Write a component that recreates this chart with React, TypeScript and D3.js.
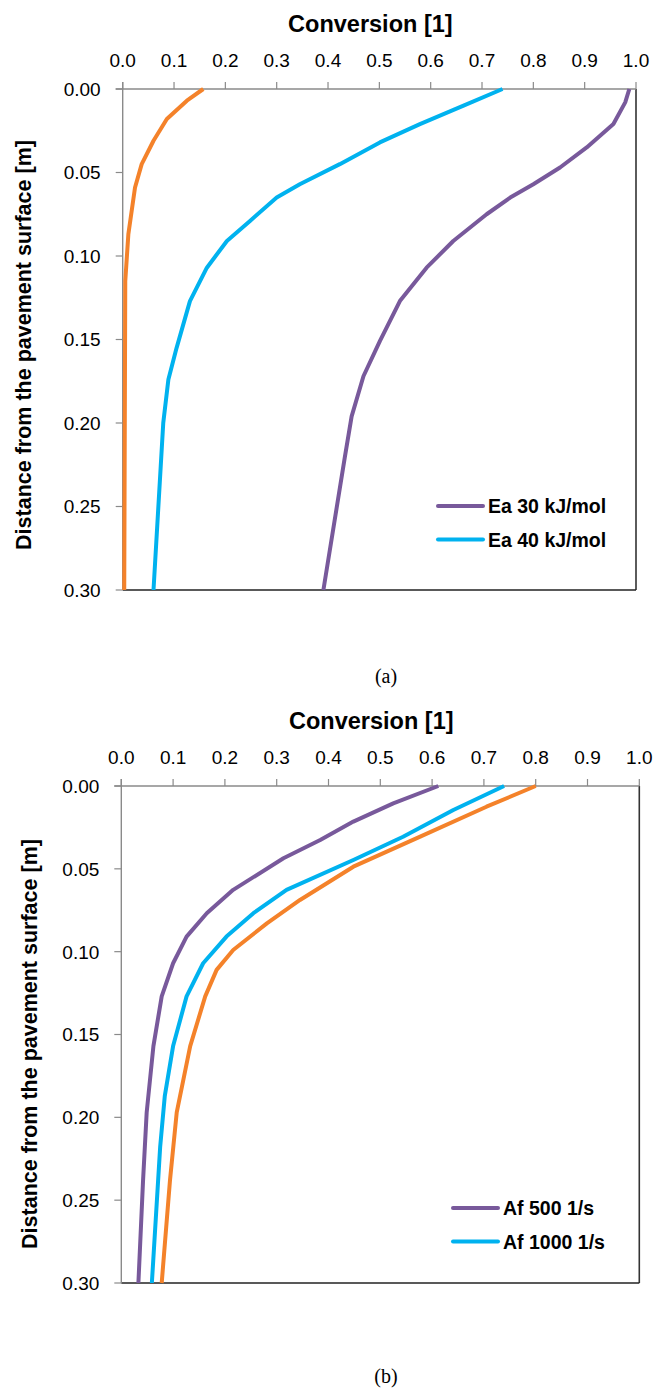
import React from "react";
import * as d3 from "d3";

// ---------- DATA ----------
const xTicks = [0, 0.1, 0.2, 0.3, 0.4, 0.5, 0.6, 0.7, 0.8, 0.9, 1.0];
const yTicks = [0, 0.05, 0.1, 0.15, 0.2, 0.25, 0.3];

// Panel (a)
const aEa30Depth = [0, 0.008, 0.021, 0.035, 0.047, 0.057, 0.065, 0.075, 0.091, 0.107, 0.127, 0.151, 0.172, 0.196, 0.22, 0.3];
const aEa30Conv = [0.987, 0.979, 0.956, 0.904, 0.852, 0.8, 0.755, 0.709, 0.644, 0.592, 0.54, 0.501, 0.469, 0.446, 0.433, 0.391];
const aEa40Depth = [0, 0.01, 0.021, 0.032, 0.045, 0.057, 0.065, 0.079, 0.091, 0.107, 0.127, 0.155, 0.174, 0.2, 0.3];
const aEa40Conv = [0.74, 0.664, 0.579, 0.501, 0.423, 0.345, 0.3, 0.248, 0.203, 0.164, 0.131, 0.105, 0.089, 0.079, 0.06];
const aEa50Depth = [0, 0.007, 0.018, 0.031, 0.045, 0.059, 0.087, 0.115, 0.3];
const aEa50Conv = [0.157, 0.125, 0.086, 0.06, 0.037, 0.024, 0.011, 0.005, 0.003];

// Panel (b)
const bAf500Depth = [0, 0.0105, 0.0215, 0.0326, 0.0436, 0.0627, 0.0768, 0.0909, 0.107, 0.127, 0.157, 0.197, 0.238, 0.3];
const bAf500Conv = [0.612, 0.525, 0.448, 0.384, 0.313, 0.216, 0.165, 0.126, 0.1, 0.078, 0.062, 0.049, 0.042, 0.033];
const bAf1000Depth = [0, 0.0145, 0.0306, 0.0447, 0.0627, 0.0768, 0.0909, 0.107, 0.127, 0.157, 0.187, 0.218, 0.3];
const bAf1000Conv = [0.739, 0.641, 0.544, 0.448, 0.319, 0.255, 0.203, 0.158, 0.126, 0.1, 0.084, 0.075, 0.059];
const bAf2000Depth = [0, 0.0125, 0.0306, 0.0487, 0.0688, 0.0829, 0.099, 0.111, 0.127, 0.157, 0.197, 0.238, 0.3];
const bAf2000Conv = [0.8, 0.705, 0.577, 0.448, 0.345, 0.281, 0.216, 0.184, 0.162, 0.133, 0.107, 0.094, 0.078];

const legendA = ["Ea 30 kJ/mol", "Ea 40 kJ/mol"];
const legendB = ["Af 500 1/s", "Af 1000 1/s"];

const xTitle = "Conversion [1]";
const yTitle = "Distance from the pavement surface [m]";

// ---------- STYLE ----------
const PURPLE = "#78599B";
const BLUE = "#00B2EF";
const ORANGE = "#F4822A";
const SANS = "'Liberation Sans', Arial, sans-serif";

type Series = { depth: number[]; conv: number[]; color: string };

type PanelProps = {
  x0: number; x1: number; y0: number; y1: number;
  series: Series[];
  legend: string[];
  legendX: number; legendY: number;
  yTitleX: number; yTitleY: number;
  caption: string; captionY: number;
};

function Panel(p: PanelProps) {
  const x = d3.scaleLinear().domain([0, 1]).range([p.x0, p.x1]);
  const y = d3.scaleLinear().domain([0, 0.3]).range([p.y0, p.y1]);
  const line = d3
    .line<[number, number]>()
    .x((d) => x(d[1]))
    .y((d) => y(d[0]));
  const fx = d3.format(".1f");
  const fy = d3.format(".2f");
  const legendColors = [p.series[0].color, p.series[1].color];
  return (
    <g>
      {/* x title */}
      <text x={(p.x0 + p.x1) / 2 - 9} y={p.y0 - 57} textAnchor="middle" fontFamily={SANS} fontWeight="bold" fontSize={23.5} fill="#000">
        {xTitle}
      </text>
      {/* y title */}
      <text
        transform={`translate(${p.yTitleX},${p.yTitleY}) rotate(-90)`}
        textAnchor="middle"
        dy="0.35em"
        fontFamily={SANS}
        fontWeight="bold"
        fontSize={21.5}
        fill="#000"
      >
        {yTitle}
      </text>
      {/* x tick labels */}
      {xTicks.map((t) => (
        <text key={"xl" + t} x={x(t)} y={p.y0 - 22.5} textAnchor="middle" fontFamily={SANS} fontSize={19} fill="#000">
          {fx(t)}
        </text>
      ))}
      {/* y tick labels */}
      {yTicks.map((t) => (
        <text key={"yl" + t} x={p.x0 - 22} y={y(t)} dy="0.36em" textAnchor="end" fontFamily={SANS} fontSize={19} fill="#000">
          {fy(t)}
        </text>
      ))}
      {/* plot border right/bottom */}
      <line x1={p.x1} x2={p.x1} y1={p.y0} y2={p.y1} stroke="#333" strokeWidth={1.6} />
      <line x1={p.x0} x2={p.x1} y1={p.y1} y2={p.y1} stroke="#222" strokeWidth={1.6} />
      {/* axes */}
      <line x1={p.x0 - 7} x2={p.x1} y1={p.y0} y2={p.y0} stroke="#8a8a8a" strokeWidth={1.4} />
      <line x1={p.x0} x2={p.x0} y1={p.y0 - 7} y2={p.y1} stroke="#8a8a8a" strokeWidth={1.4} />
      {xTicks.map((t) => (
        <line key={"xt" + t} x1={x(t)} x2={x(t)} y1={p.y0 - 7} y2={p.y0} stroke="#8a8a8a" strokeWidth={1.2} />
      ))}
      {yTicks.map((t) => (
        <line key={"yt" + t} x1={p.x0 - 7} x2={p.x0} y1={y(t)} y2={y(t)} stroke="#8a8a8a" strokeWidth={1.2} />
      ))}
      {/* series */}
      {p.series.map((s, i) => (
        <path
          key={"s" + i}
          d={line(s.depth.map((d, j) => [d, s.conv[j]] as [number, number])) || ""}
          fill="none"
          stroke={s.color}
          strokeWidth={4}
          strokeLinejoin="round"
        />
      ))}
      {/* legend */}
      {p.legend.map((l, i) => (
        <g key={"lg" + i}>
          <line
            x1={p.legendX}
            x2={p.legendX + 45}
            y1={p.legendY + i * 33.5}
            y2={p.legendY + i * 33.5}
            stroke={legendColors[i]}
            strokeWidth={4}
            strokeLinecap="round"
          />
          <text x={p.legendX + 50} y={p.legendY + i * 33.5 + 7} fontFamily={SANS} fontWeight="bold" fontSize={19.5} fill="#000">
            {l}
          </text>
        </g>
      ))}
      {/* caption */}
      <text x={386} y={p.captionY} textAnchor="middle" fontFamily="'Liberation Serif', 'Times New Roman', serif" fontSize={20} fill="#000">
        {p.caption}
      </text>
    </g>
  );
}

export default function App() {
  return (
    <svg
      width={654}
      height={1390}
      viewBox="0 0 654 1390"
      style={{ position: "absolute", left: 0, top: 0, background: "#fff" }}
    >
      <rect x={0} y={0} width={654} height={1390} fill="#fff" />
      <Panel
        x0={122.7}
        x1={636}
        y0={89}
        y1={590}
        series={[
          { depth: aEa30Depth, conv: aEa30Conv, color: PURPLE },
          { depth: aEa40Depth, conv: aEa40Conv, color: BLUE },
          { depth: aEa50Depth, conv: aEa50Conv, color: ORANGE },
        ]}
        legend={legendA}
        legendX={438}
        legendY={506}
        yTitleX={23}
        yTitleY={345}
        caption="(a)"
        captionY={683}
      />
      <Panel
        x0={121.3}
        x1={639.3}
        y0={786}
        y1={1283}
        series={[
          { depth: bAf500Depth, conv: bAf500Conv, color: PURPLE },
          { depth: bAf1000Depth, conv: bAf1000Conv, color: BLUE },
          { depth: bAf2000Depth, conv: bAf2000Conv, color: ORANGE },
        ]}
        legend={legendB}
        legendX={453}
        legendY={1208}
        yTitleX={29}
        yTitleY={1044}
        caption="(b)"
        captionY={1383}
      />
    </svg>
  );
}
